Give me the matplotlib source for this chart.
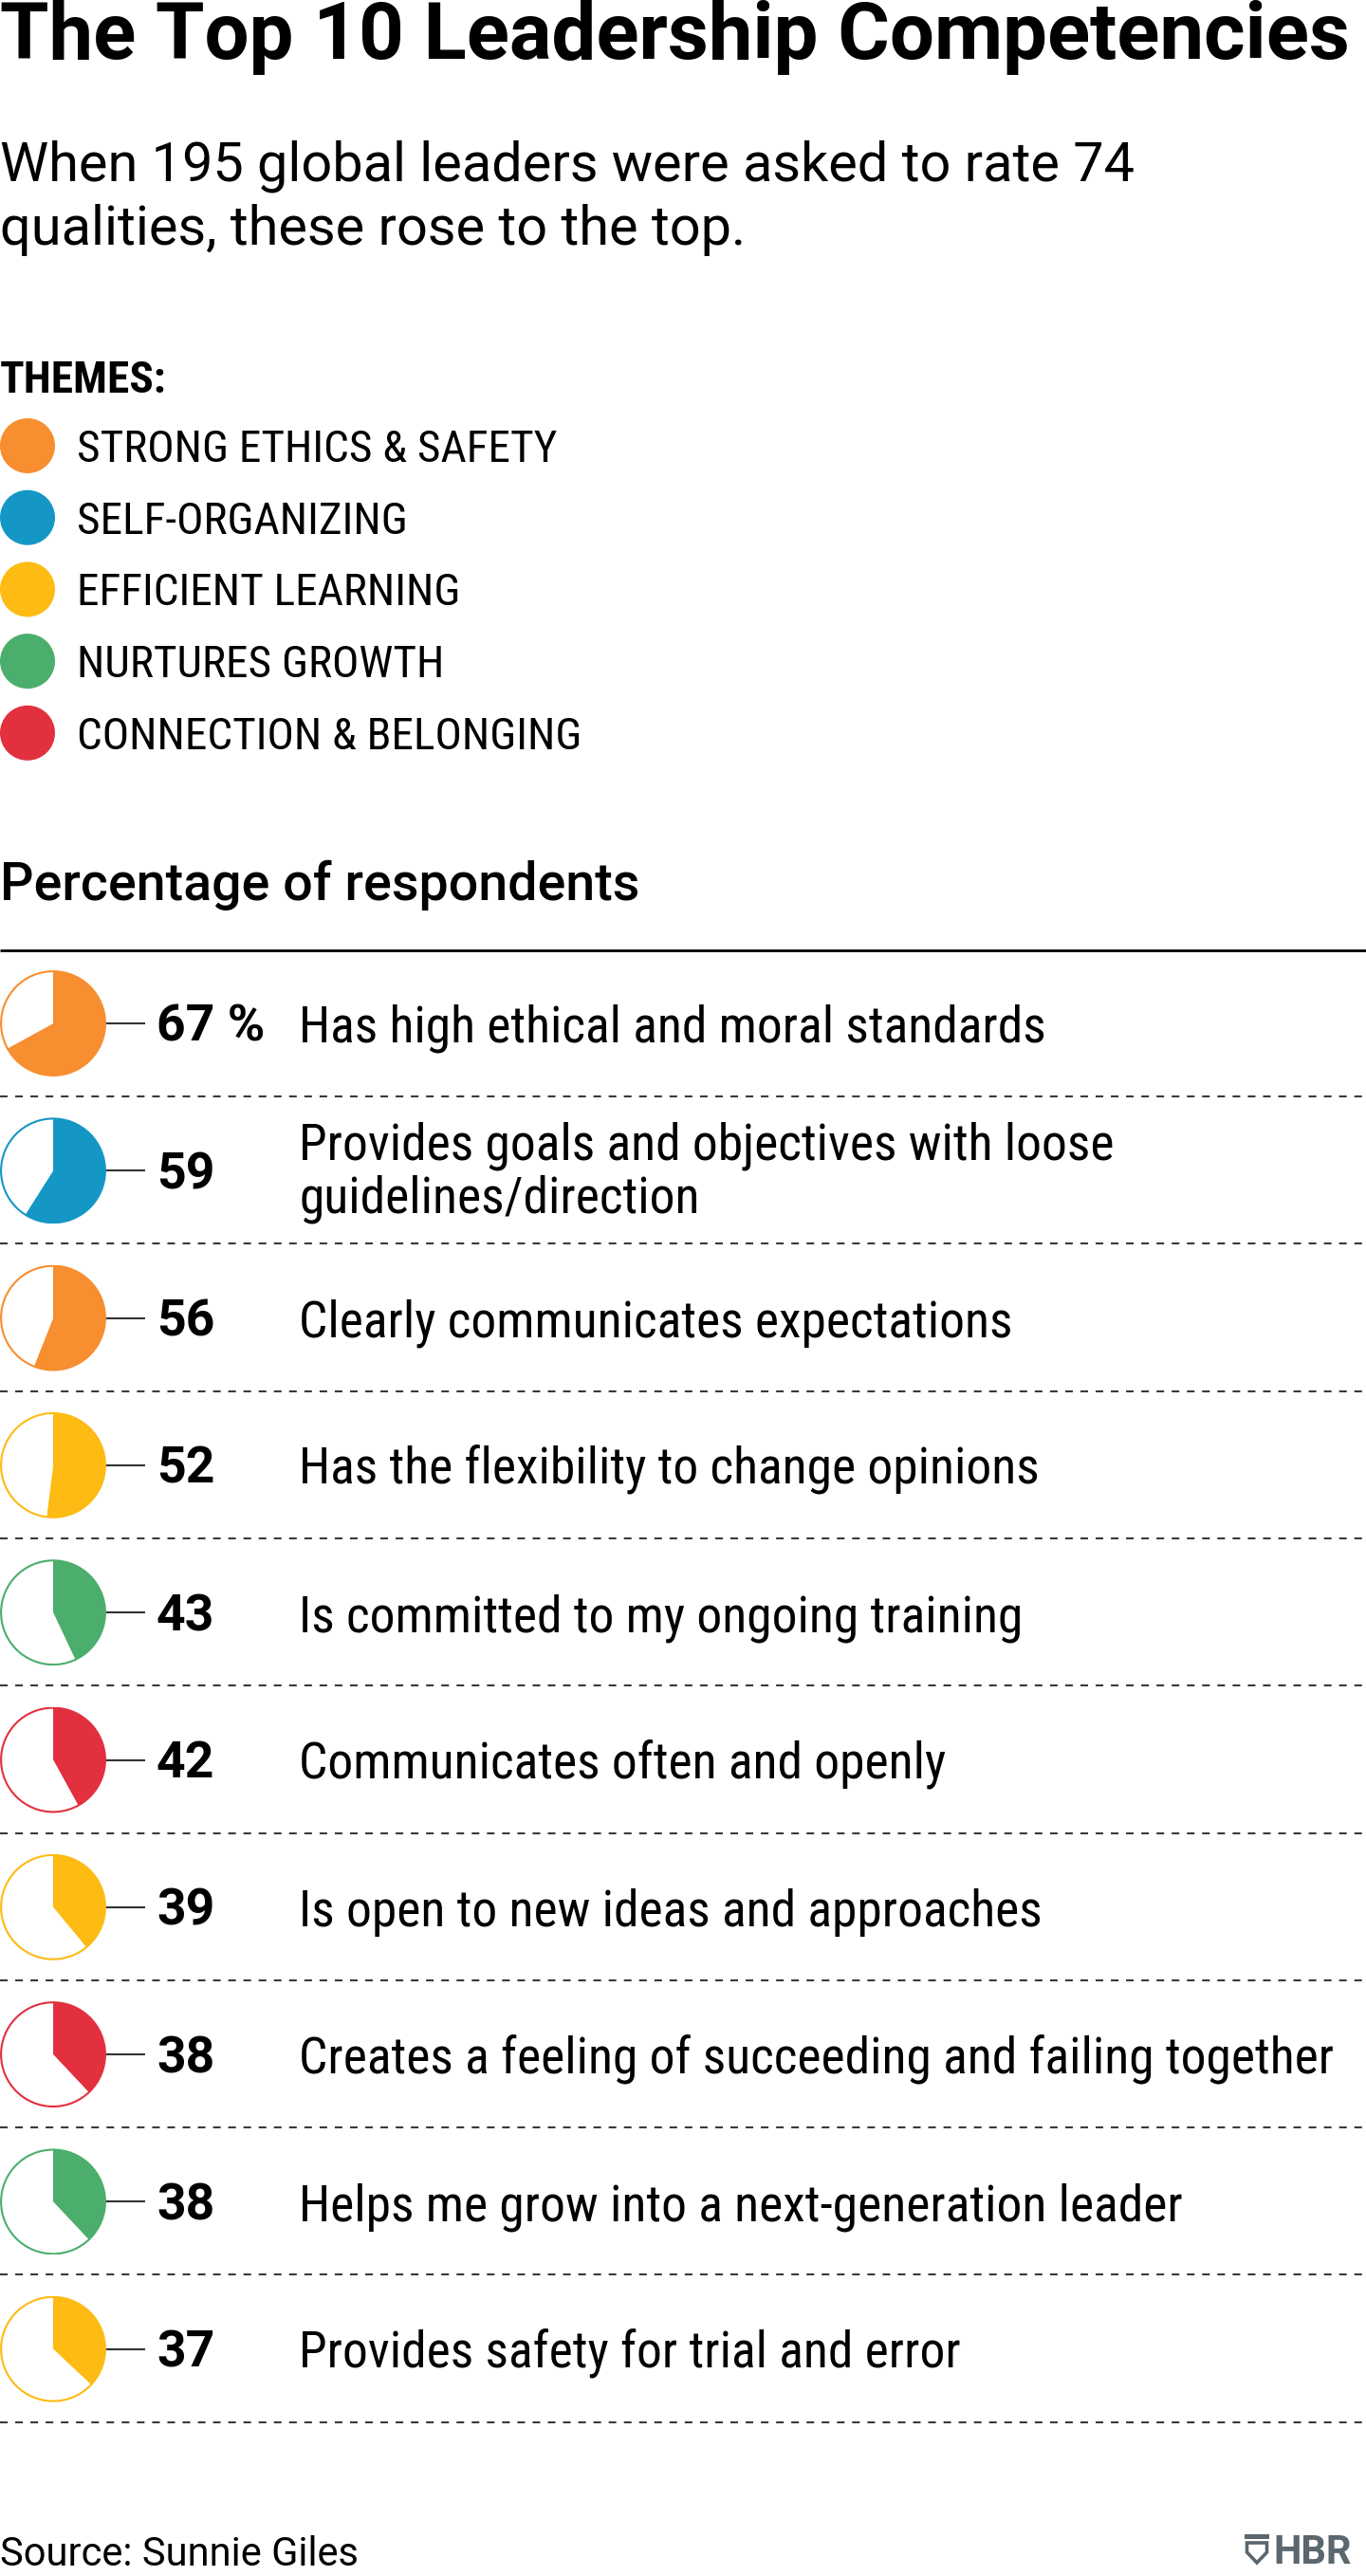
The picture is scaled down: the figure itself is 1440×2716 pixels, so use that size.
import matplotlib
matplotlib.use("Agg")
import matplotlib.pyplot as plt
from matplotlib.patches import Polygon, Rectangle, Circle

# ---------------- data ----------------
title = "The Top 10 Leadership Competencies"
subtitle = "When 195 global leaders were asked to rate 74\nqualities, these rose to the top."
theme_names = ["STRONG ETHICS & SAFETY", "SELF-ORGANIZING", "EFFICIENT LEARNING",
               "NURTURES GROWTH", "CONNECTION & BELONGING"]
theme_colors = ["#F78E2F", "#1597C6", "#FDBB13", "#4BAE6C", "#E2303F"]
values = [67, 59, 56, 52, 43, 42, 39, 38, 38, 37]
row_themes = [0, 1, 0, 2, 3, 4, 2, 4, 3, 2]
labels = [
    "Has high ethical and moral standards",
    "Provides goals and objectives with loose\nguidelines/direction",
    "Clearly communicates expectations",
    "Has the flexibility to change opinions",
    "Is committed to my ongoing training",
    "Communicates often and openly",
    "Is open to new ideas and approaches",
    "Creates a feeling of succeeding and failing together",
    "Helps me grow into a next-generation leader",
    "Provides safety for trial and error",
]
source = "Source: Sunnie Giles"

# ---------------- fonts ----------------
COND = ["Roboto Condensed", "DejaVu Sans"]
ROBOTO = ["Roboto", "DejaVu Sans"]
plt.rcParams["font.family"] = ROBOTO

W, H = 1440, 2716
DPI = 100
fig = plt.figure(figsize=(W / DPI, H / DPI), dpi=DPI)
fig.patch.set_facecolor("white")
ax = fig.add_axes([0, 0, 1, 1])
ax.set_xlim(0, W)
ax.set_ylim(H, 0)
ax.axis("off")

# title & subtitle
ax.text(0, 62, title, family=ROBOTO, fontweight="bold", fontsize=60,
        va="baseline", ha="left", color="black")
ax.text(0, 258, subtitle, family=ROBOTO, fontsize=41.5, va="baseline", ha="left",
        color="black", linespacing=1.28)

# legend
ax.text(0, 414, "THEMES:", family=COND, fontweight="bold", fontsize=34,
        va="baseline", ha="left")
for i, (name, col) in enumerate(zip(theme_names, theme_colors)):
    cy = 470 + i * 75.7
    ax.add_patch(Circle((29, cy), 29, color=col, lw=0))
    ax.text(81, cy + 17, name, family=COND, fontsize=34, va="baseline", ha="left")

# section header
ax.text(0, 949, "Percentage of respondents", family=ROBOTO, fontweight="medium",
        fontsize=40, va="baseline", ha="left")
ax.plot([0, W], [1002, 1002], color="black", lw=2.0, solid_capstyle="butt")

row_top = 1002
pitch = 155.3
R = 55
for i, (v, lab, t) in enumerate(zip(values, labels, row_themes)):
    cy = row_top + 77 + i * pitch
    col = theme_colors[t]
    # dashed separator
    yl = row_top + 154 + i * pitch
    ax.plot([0, W], [yl, yl], color="#3a3a3a", lw=1.5, dashes=(3.85, 3.85))
    # connector
    ax.plot([2 * R, 153], [cy, cy], color="#333333", lw=1.5, solid_capstyle="butt")
    # number
    num = f"{v} %" if i == 0 else f"{v}"
    ax.text(165, cy + 19, num, family=ROBOTO, fontweight="bold", fontsize=38.5,
            va="baseline", ha="left")
    # label
    if "\n" in lab:
        ax.text(315, cy + 44, lab, family=COND, fontsize=38.5, va="baseline",
                ha="left", linespacing=1.12)
    else:
        ax.text(315, cy + 20, lab, family=COND, fontsize=38.5, va="baseline", ha="left")
    # pie
    pax = fig.add_axes([0 / W, 1 - (cy + R + 1) / H, (2 * R + 2) / W, (2 * R + 2) / H])
    pax.pie([v, 100 - v], colors=[col, "white"], startangle=90, counterclock=False,
            wedgeprops=dict(linewidth=0, edgecolor="none"))
    pax.add_patch(Circle((0, 0), 1.0, fill=False, edgecolor=col, lw=1.5))
    pax.set_xlim(-1.02, 1.02)
    pax.set_ylim(-1.02, 1.02)
    pax.set_aspect("equal")
    pax.axis("off")

# source
ax.text(0, 2705, source, family=ROBOTO, fontsize=30, va="baseline", ha="left")

# HBR logo
logo = "#5B666E"
ax.add_patch(Rectangle((1312, 2672), 26, 4.5, color=logo, lw=0))
ax.add_patch(Polygon([(1314.5, 2681), (1335.5, 2681), (1335.5, 2691),
                      (1325, 2702), (1314.5, 2691)], closed=True, fill=False,
                     edgecolor=logo, lw=2.6, joinstyle="miter"))
ax.text(1342, 2703, "HBR", family=ROBOTO, fontweight="bold", fontsize=30,
        color=logo, va="baseline", ha="left")

fig.savefig("out.png", dpi=DPI, facecolor="white")
